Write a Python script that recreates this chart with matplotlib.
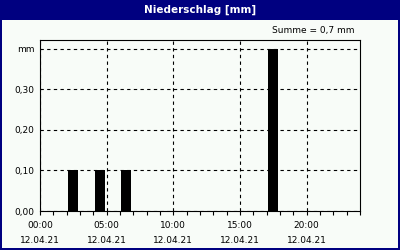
import matplotlib.pyplot as plt
from matplotlib.patches import Rectangle

# data
hours = [2, 4, 6, 17]
rain = [0.1, 0.1, 0.1, 0.4]
xticks = [0, 5, 10, 15, 20]
xlabels = ['00:00\n12.04.21', '05:00\n12.04.21', '10:00\n12.04.21',
           '15:00\n12.04.21', '20:00\n12.04.21']
yticks = [0.0, 0.1, 0.2, 0.3, 0.4]
ylabels = ['0,00', '0,10', '0,20', '0,30', 'mm']

navy = '#000080'
bg = '#f8fcf8'

fig = plt.figure(figsize=(4, 2.5), dpi=100)
fig.patch.set_facecolor(navy)
# inner panel
fig.add_artist(Rectangle((2/400, 2/250), 396/400, 228/250, transform=fig.transFigure,
                         facecolor=bg, edgecolor='none', zorder=0))
fig.text(0.5, 1 - 10/250, 'Niederschlag [mm]', color='white', fontsize=7.5,
         fontweight='bold', ha='center', va='center')
fig.text(355/400, 1 - 30/250, 'Summe = 0,7 mm', fontsize=6.5, ha='right', va='center')

ax = fig.add_axes([0.1, 39/250, 0.8, 171/250])
ax.set_facecolor(bg)
ax.bar([h + 0.1 for h in hours], rain, width=0.75, align='edge', color='black', zorder=3)

ax.set_xlim(0, 24)
ax.set_ylim(0, 0.422)
ax.set_xticks(xticks)
ax.set_xticklabels(xlabels, fontsize=6.5, linespacing=1.9)
ax.set_xticks(range(0, 25), minor=True)
ax.set_yticks(yticks)
ax.set_yticklabels(ylabels, fontsize=6.5)
ax.tick_params(axis='x', which='both', direction='out', length=3, width=0.8, pad=4)
ax.tick_params(axis='y', length=0, pad=4)
ax.grid(True, color='black', linestyle=(0, (3, 3)), linewidth=0.8, zorder=1)
for s in ax.spines.values():
    s.set_linewidth(0.8)
    s.set_color('black')

fig.savefig('out.png', dpi=100, facecolor=navy)
